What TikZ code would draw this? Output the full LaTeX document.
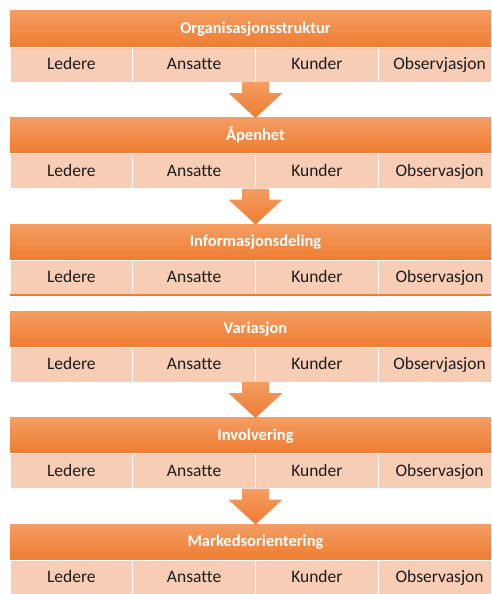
\documentclass[tikz,border=0pt]{standalone}
\usepackage{fontspec}
\setmainfont{Carlito}[Ligatures = NoCommon]
\usetikzlibrary{positioning}
\definecolor{hdrtop}{HTML}{F49D63}
\definecolor{hdrbot}{HTML}{EE7C31}
\definecolor{cellfill}{HTML}{F8CDB5}
\definecolor{celltext}{HTML}{1C1C1C}
\tikzstyle{header} = [rectangle, minimum width = 491pt, minimum height = 36pt, 
	inner sep = 0pt, outer sep = 0pt, top color = hdrtop, bottom color = hdrbot, 
	text height = 12pt, text depth = 3pt, 
	text = white, font = \fontsize{16.5}{18}\selectfont\bfseries]
\tikzstyle{cell} = [rectangle, minimum width = 122.75pt, minimum height = 35pt, 
	inner sep = 0pt, outer sep = 0pt, fill = cellfill, draw = white, thick, 
	text height = 13.5pt, text depth = 3.5pt, 
	text = celltext, font = \fontsize{17.5}{20}\selectfont]
\tikzset{blockarrow/.pic = {
	\shade [top color = hdrtop, bottom color = hdrbot] 
		(-13.5,0) -- (13.5,0) -- (13.5,-11) -- (27,-11) -- (0,-36) 
		-- (-27,-11) -- (-13.5,-11) -- cycle;
}}
\begin{document}
\begin{tikzpicture}[x = 1pt, y = 1pt]

\clip (0,0) rectangle (491,-594);

\node (H1) [header, anchor = north west] at (10,-11) {Organisasjonsstruktur};
\node (C1a) [cell, below right = 0pt and 0pt of H1.south west] {Ledere};
\node (C1b) [cell, right = 0pt of C1a] {Ansatte};
\node (C1c) [cell, right = 0pt of C1b] {Kunder};
\node (C1d) [cell, right = 0pt of C1c] {Observjasjon};

\node (H2) [header, below right = 35.5pt and 0pt of C1a.south west] {Åpenhet};
\node (C2a) [cell, below right = 0pt and 0pt of H2.south west] {Ledere};
\node (C2b) [cell, right = 0pt of C2a] {Ansatte};
\node (C2c) [cell, right = 0pt of C2b] {Kunder};
\node (C2d) [cell, right = 0pt of C2c] {Observasjon};

\node (H3) [header, below right = 35.5pt and 0pt of C2a.south west] {Informasjonsdeling};
\node (C3a) [cell, below right = 0pt and 0pt of H3.south west] {Ledere};
\node (C3b) [cell, right = 0pt of C3a] {Ansatte};
\node (C3c) [cell, right = 0pt of C3b] {Kunder};
\node (C3d) [cell, right = 0pt of C3c] {Observasjon};

\draw [hdrbot, line width = 1.2pt] (C3a.south west) -- (C3d.south east);

\node (H4) [header, below right = 16pt and 0pt of C3a.south west] {Variasjon};
\node (C4a) [cell, below right = 0pt and 0pt of H4.south west] {Ledere};
\node (C4b) [cell, right = 0pt of C4a] {Ansatte};
\node (C4c) [cell, right = 0pt of C4b] {Kunder};
\node (C4d) [cell, right = 0pt of C4c] {Observjasjon};

\node (H5) [header, below right = 35.5pt and 0pt of C4a.south west] {Involvering};
\node (C5a) [cell, below right = 0pt and 0pt of H5.south west] {Ledere};
\node (C5b) [cell, right = 0pt of C5a] {Ansatte};
\node (C5c) [cell, right = 0pt of C5b] {Kunder};
\node (C5d) [cell, right = 0pt of C5c] {Observasjon};

\node (H6) [header, below right = 35.5pt and 0pt of C5a.south west] {Markedsorientering};
\node (C6a) [cell, below right = 0pt and 0pt of H6.south west] {Ledere};
\node (C6b) [cell, right = 0pt of C6a] {Ansatte};
\node (C6c) [cell, right = 0pt of C6b] {Kunder};
\node (C6d) [cell, right = 0pt of C6c] {Observasjon};

% arrows between the blocks
\pic (A1) at (C1b.south east) {blockarrow};
\pic (A2) at (C2b.south east) {blockarrow};
\pic (A4) at (C4b.south east) {blockarrow};
\pic (A5) at (C5b.south east) {blockarrow};

\end{tikzpicture}
\end{document}
